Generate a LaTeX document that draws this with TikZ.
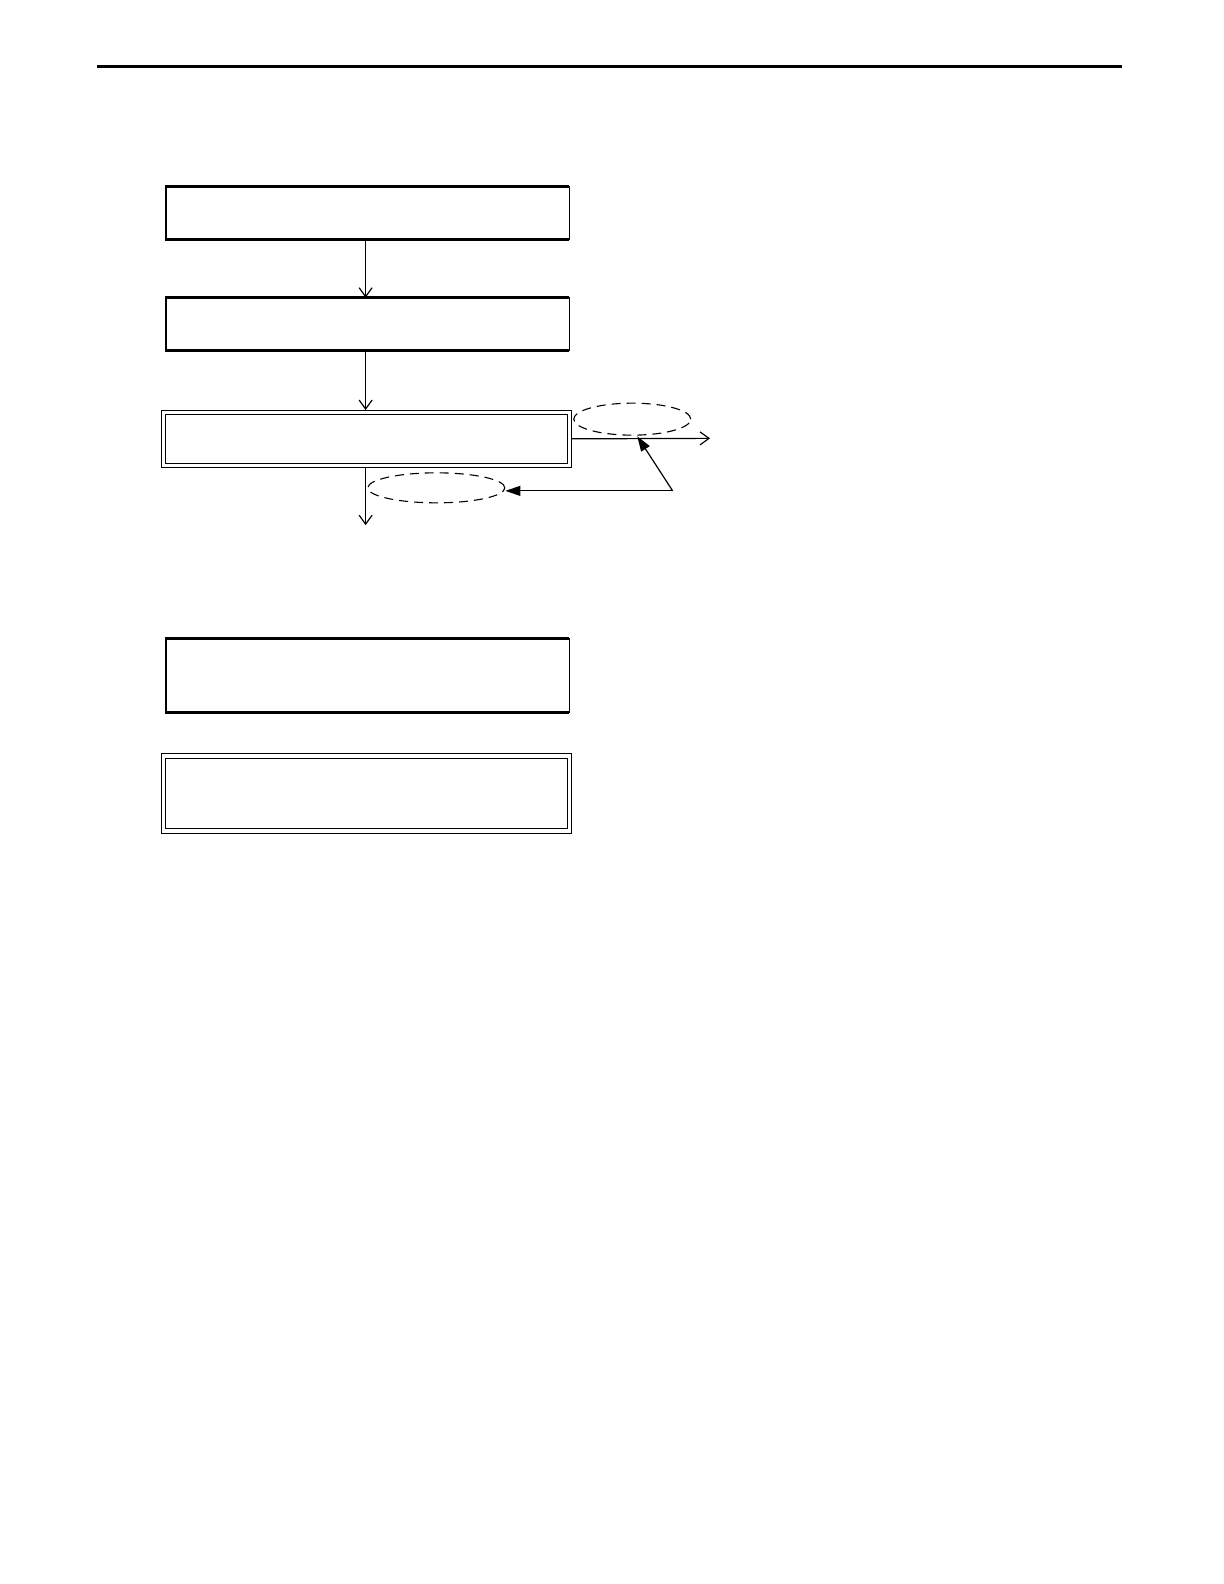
\documentclass[tikz,border=0pt]{standalone}
\usetikzlibrary{arrows.meta,shapes.geometric}
\begin{document}
\begin{tikzpicture}[x=1.01pt,y=-1.01pt,
  boxa/.style={draw,line width=1.1pt,minimum width=403pt,inner sep=0pt,outer sep=0pt},
  thickedge/.style={line width=2.5pt},
  dbox/.style={draw,double,double distance=3.5pt,line width=1.1pt,inner sep=0pt,outer sep=2.3pt,minimum width=406pt},
  flow/.style={line width=1.2pt,-{Straight Barb[length=9pt,width=13pt,line width=1.2pt]}},
  fb/.style={line width=1.2pt,-{Triangle[length=15pt,width=10pt]}},
  dell/.style={ellipse,draw,dashed,dash pattern=on 9pt off 6pt,line width=1.1pt,inner sep=0pt}]
\useasboundingbox (0,0) rectangle (1211.88,1568.32);
\draw[line width=3.2pt] (96,65.5) -- (1111,65.5);
% boxes
\node[boxa,minimum height=53pt] (b1) at (364,211) {};
\draw[thickedge] (b1.north east) -- (b1.north west) -- (b1.south west) -- (b1.south east);
\node[boxa,minimum height=53pt] (b2) at (364,321) {};
\draw[thickedge] (b2.north east) -- (b2.north west) -- (b2.south west) -- (b2.south east);
\node[dbox,minimum height=53pt] (b3) at (363,434.5) {};
\node[boxa,minimum height=74pt] (b4) at (364,669) {};
\draw[thickedge] (b4.north east) -- (b4.north west) -- (b4.south west) -- (b4.south east);
\node[dbox,minimum height=75pt] (b5) at (363,785.5) {};
% ellipses
\node[dell,minimum width=117pt,minimum height=32pt] (e1) at (626,415) {};
\node[dell,minimum width=137pt,minimum height=30pt] (e2) at (432,483) {};
% flow arrows
\draw[flow] (b1.south -| 362,0) -- (b2.north -| 362,0);
\draw[flow] (b2.south -| 362,0) -- (b3.north -| 362,0);
\coordinate (outR) at (703,434);
\coordinate (outD) at (362,520);
\draw[flow] (b3.east) -- (outR);
\draw[flow] (b3.south -| 362,0) -- (outD);
% feedback
\coordinate (fp) at (666,486);
\coordinate (ft) at (631,432);
\draw[fb] (fp) -- (e2.east |- fp);
\draw[fb] (fp) -- (ft);
\end{tikzpicture}
\end{document}
